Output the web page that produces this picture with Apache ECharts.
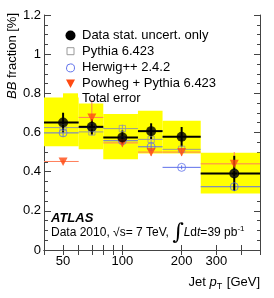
<!DOCTYPE html>
<html><head><meta charset="utf-8">
<script src="https://cdn.jsdelivr.net/npm/echarts@6/dist/echarts.min.js"></script>
<style>html,body{margin:0;padding:0;background:#fff}#c{width:274px;height:298px}</style>
</head><body><div id="c"></div>
<script>
// ---- data ----
const ptCenter = [50, 70, 100, 140, 200, 370];
const binLo    = [40, 60, 80, 120, 160, 250];
const binHi    = [60, 80, 120, 160, 250, 500];
const dataVal  = [0.651, 0.629, 0.575, 0.607, 0.578, 0.391];
const dataStat = [0.05, 0.04, 0.035, 0.04, 0.05, 0.09];
const totalLo  = [0.530, 0.514, 0.463, 0.493, 0.493, 0.289];
const totalHi  = [0.779, 0.748, 0.694, 0.711, 0.660, 0.497];
const pythiaVal = [0.625, 0.603, 0.620, 0.565, 0.514, 0.390];
const pythiaErr = [0.02, 0.02, 0.02, 0.02, 0.02, 0.02];
const herwigVal = [0.598, 0.625, 0.558, 0.527, 0.422, 0.323];
const herwigErr = [0.02, 0.02, 0.02, 0.02, 0.01, 0.02];
const powhegVal = [0.452, 0.677, 0.547, 0.500, 0.500, 0.440];
const powhegErr = [0.01, 0.09, 0.02, 0.02, 0.02, 0.06];
const xTickVals  = [40, 50, 60, 70, 80, 90, 100, 200, 300, 400, 500];
const xLabelVals = [50, 100, 200, 300];
const names = ['Data stat. uncert. only', 'Pythia 6.423', 'Herwig++ 2.4.2', 'Powheg + Pythia 6.423', 'Total error'];

const FONT = 'Liberation Sans, Arial, Helvetica, sans-serif';
const cData = '#000000', cPythia = '#9a9a9a', cHerwig = '#5e70ea', cPowheg = '#ff4a12', cPowhegLine = '#ff7f5a', cYellow = '#ffff00';

function barRows(vals, errs) {
  return vals.map((v, i) => [binLo[i], binHi[i], ptCenter[i], v, errs[i]]);
}
function barRender(color, width) {
  return function (params, api) {
    const lo = api.value(0), hi = api.value(1), x = api.value(2), y = api.value(3), e = api.value(4);
    const pL = api.coord([lo, y]), pR = api.coord([hi, y]);
    const pT = api.coord([x, y + e]), pB = api.coord([x, y - e]);
    return { type: 'group', children: [
      { type: 'line', shape: { x1: pL[0], y1: pL[1], x2: pR[0], y2: pR[1] }, style: { stroke: color, lineWidth: width } },
      { type: 'line', shape: { x1: pT[0], y1: pT[1], x2: pB[0], y2: pB[1] }, style: { stroke: color, lineWidth: width } }
    ]};
  };
}
function boxRender(params, api) {
  const p1 = api.coord([api.value(0), api.value(3)]);
  const p2 = api.coord([api.value(1), api.value(2)]);
  return { type: 'rect', shape: { x: p1[0], y: p1[1], width: p2[0] - p1[0], height: p2[1] - p1[1] }, style: { fill: cYellow } };
}
function pts(vals) { return vals.map((v, i) => [ptCenter[i], v]); }

const squarePath = 'path://M0,0M10,10M1.5,1.5H8.5V8.5H1.5Z';
const triPath = 'path://M0,0M10,10M0.5,1H9.5L5,9.5Z';

const xAxisBase = {
  type: 'log', min: 40, max: 500, logBase: 10,
  axisLine: { show: true, lineStyle: { color: '#444', width: 1 } },
  splitLine: { show: false },
  axisTick: { show: true, inside: true, length: 5, customValues: xTickVals, lineStyle: { color: '#444' } },
};
const yAxisBase = {
  type: 'value', min: 0, max: 1.2, interval: 0.2,
  axisLine: { show: true, lineStyle: { color: '#444', width: 1 } },
  splitLine: { show: false },
  axisTick: { show: true, inside: true, length: 7, lineStyle: { color: '#444' } },
  minorTick: { show: true, splitNumber: 4, length: 4, lineStyle: { color: '#444' } },
};

const option = {
  animation: false,
  grid: { left: 44, right: 14, top: 15, bottom: 48, containLabel: false },
  xAxis: [
    Object.assign({}, xAxisBase, { position: 'bottom',
      axisLabel: { show: true, customValues: xLabelVals, margin: 5, fontSize: 13, color: '#000', fontFamily: FONT,
        formatter: v => String(Math.round(v)) } }),
    Object.assign({}, xAxisBase, { position: 'top', axisLabel: { show: false } })
  ],
  yAxis: [
    Object.assign({}, yAxisBase, { position: 'left',
      axisLabel: { show: true, margin: 3, fontSize: 13, color: '#000', fontFamily: FONT,
        formatter: v => (v === 0 ? '0' : (Math.abs(v - 1) < 1e-9 ? '1' : v.toFixed(1))) } }),
    Object.assign({}, yAxisBase, { position: 'right', axisLabel: { show: false }, axisTick: Object.assign({}, yAxisBase.axisTick, { length: 6 }), minorTick: Object.assign({}, yAxisBase.minorTick, { length: 3 }) })
  ],
  legend: {
    orient: 'vertical', left: 58, top: 24, itemWidth: 15, itemHeight: 10, itemGap: 1.7,
    textStyle: { fontSize: 13, fontFamily: FONT, color: '#000', lineHeight: 10, padding: [0, 0, 0, -1] },
    selectedMode: false,
    data: [
      { name: names[0], icon: 'circle', itemStyle: { color: cData } },
      { name: names[1], icon: squarePath, itemStyle: { color: 'none', borderColor: cPythia, borderWidth: 1 } },
      { name: names[2], icon: 'path://M0,0M10,10M5,1A4,4,0,1,1,4.99,1Z', itemStyle: { color: 'none', borderColor: cHerwig, borderWidth: 1 } },
      { name: names[3], icon: triPath, itemStyle: { color: cPowheg } },
      { name: names[4], icon: 'rect', itemStyle: { color: cYellow } }
    ]
  },
  graphic: [
    { type: 'text', x: 12, y: 13, rotation: Math.PI / 2, style: {
      text: '{i|BB} fraction [%]', align: 'right', verticalAlign: 'middle',
      font: '13px ' + FONT, fill: '#000',
      rich: { i: { fontStyle: 'italic', fontSize: 13, fontFamily: FONT } } } },
    { type: 'text', x: 260, y: 282, style: {
      text: 'Jet {i|p}{sub|T} [GeV]', align: 'right', verticalAlign: 'middle',
      font: '13px ' + FONT, fill: '#000',
      rich: { i: { fontStyle: 'italic', fontSize: 13, fontFamily: FONT },
              sub: { fontSize: 9, fontFamily: FONT, padding: [9, 1, 0, 0] } } } },
    { type: 'text', x: 51, y: 218, style: { text: 'ATLAS', font: 'italic bold 13px ' + FONT, fill: '#000', verticalAlign: 'middle' } },
    { type: 'text', x: 51, y: 233, style: {
      text: 'Data 2010, \u221As= 7 TeV, {int|\u222B}{i|L}d{i|t}=39 pb{sup|-1}',
      font: '12px ' + FONT, fill: '#000', verticalAlign: 'middle',
      rich: { int: { fontSize: 22, fontFamily: 'DejaVu Serif', padding: [0, 0, 0, 0] },
              i: { fontStyle: 'italic', fontSize: 12, fontFamily: FONT },
              sup: { fontSize: 8, fontFamily: FONT, padding: [0, 0, 8, 0] } } } }
  ],
  series: [
    { type: 'custom', name: names[4], renderItem: boxRender, clip: true, z: 1,
      data: totalLo.map((v, i) => [binLo[i], binHi[i], v, totalHi[i]]), encode: { x: [0, 1], y: [2, 3] } },
    { type: 'custom', name: names[3], renderItem: barRender(cPowhegLine, 1), clip: true, z: 2,
      data: barRows(powhegVal, powhegErr), encode: { x: [0, 1, 2], y: 3 } },
    { type: 'custom', name: names[2], renderItem: barRender(cHerwig, 1), clip: true, z: 2,
      data: barRows(herwigVal, herwigErr), encode: { x: [0, 1, 2], y: 3 } },
    { type: 'custom', name: names[1], renderItem: barRender(cPythia, 1), clip: true, z: 2,
      data: barRows(pythiaVal, pythiaErr), encode: { x: [0, 1, 2], y: 3 } },
    { type: 'custom', name: names[0], renderItem: barRender(cData, 2), clip: true, z: 3,
      data: barRows(dataVal, dataStat), encode: { x: [0, 1, 2], y: 3 } },
    { type: 'scatter', name: names[1], data: pts(pythiaVal), symbol: squarePath, symbolSize: 9, symbolKeepAspect: true, z: 4,
      itemStyle: { color: 'none', borderColor: cPythia, borderWidth: 1 } },
    { type: 'scatter', name: names[2], data: pts(herwigVal), symbol: 'circle', symbolSize: 8, z: 4,
      itemStyle: { color: 'none', borderColor: cHerwig, borderWidth: 1 } },
    { type: 'scatter', name: names[3], data: pts(powhegVal), symbol: triPath, symbolSize: 10, symbolKeepAspect: true, z: 4,
      itemStyle: { color: cPowheg } },
    { type: 'scatter', name: names[0], data: pts(dataVal), symbol: 'circle', symbolSize: 10, z: 5,
      itemStyle: { color: cData } }
  ]
};
const chart = echarts.init(document.getElementById('c'), null, { renderer: 'canvas' });
chart.setOption(option);
</script></body></html>
